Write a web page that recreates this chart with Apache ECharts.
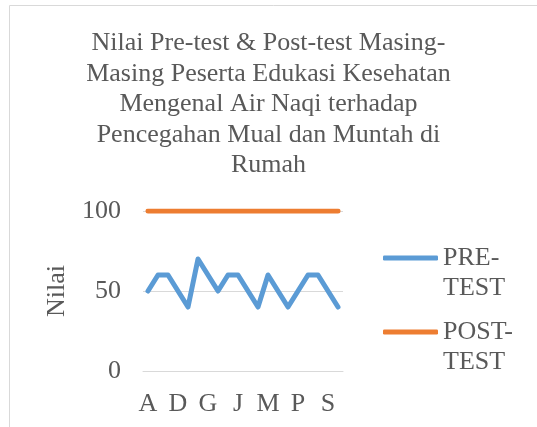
<!DOCTYPE html>
<html>
<head>
<meta charset="utf-8">
<script src="https://cdn.jsdelivr.net/npm/echarts@6/dist/echarts.min.js"></script>
<style>
  html, body { margin: 0; padding: 0; background: #fff; }
  #chart { width: 537px; height: 427px; }
</style>
</head>
<body>
<div id="chart"></div>
<script>
// data
var peserta = ['A','B','C','D','E','F','G','H','I','J','K','L','M','N','O','P','Q','R','S','T'];
var preTest = [50,60,60,50,40,70,60,50,60,60,50,40,60,50,40,50,60,60,50,40];
var postTest = [100,100,100,100,100,100,100,100,100,100,100,100,100,100,100,100,100,100,100,100];
var yTicks = [0, 50, 100];

var serif = 'Liberation Serif';
var grey = '#595959';

var chart = echarts.init(document.getElementById('chart'));

var option = {
  animation: false,
  graphic: [{
    type: 'rect',
    shape: { x: 9.5, y: 5.5, width: 600, height: 500 },
    style: { fill: 'none', stroke: '#d9d9d9', lineWidth: 1 }
  }],
  title: {
    text: 'Nilai Pre-test & Post-test Masing-\nMasing Peserta Edukasi Kesehatan\nMengenal Air Naqi terhadap\nPencegahan Mual dan Muntah di\nRumah',
    left: 'center',
    top: 28,
    padding: 0,
    textStyle: {
      fontFamily: serif,
      fontSize: 26,
      fontWeight: 'normal',
      lineHeight: 30.5,
      color: grey
    }
  },
  legend: {
    orient: 'vertical',
    left: 383,
    top: 213,
    padding: 0,
    itemGap: -16,
    itemWidth: 55,
    itemHeight: 5,
    icon: 'roundRect',
    // empty first line so the icon sits beside the first word
    formatter: function (name) {
      return ' \n' + name.replace('-', '-\n');
    },
    textStyle: {
      fontFamily: serif,
      fontSize: 26,
      lineHeight: 30,
      color: grey
    },
    data: ['PRE-TEST', 'POST-TEST']
  },
  grid: {
    left: 143,
    right: 194,
    top: 211,
    bottom: 56
  },
  xAxis: {
    type: 'category',
    data: peserta,
    boundaryGap: true,
    axisTick: { show: false },
    axisLine: { lineStyle: { color: '#d9d9d9', width: 1 } },
    axisLabel: {
      interval: 2,
      margin: 20,
      fontFamily: serif,
      fontSize: 26,
      color: grey
    }
  },
  yAxis: {
    type: 'value',
    min: yTicks[0],
    max: yTicks[yTicks.length - 1],
    interval: yTicks[1] - yTicks[0],
    name: 'Nilai',
    nameLocation: 'middle',
    nameGap: 73,
    nameTextStyle: {
      fontFamily: serif,
      fontSize: 26,
      color: grey
    },
    axisLabel: {
      margin: 22,
      fontFamily: serif,
      fontSize: 26,
      color: grey
    },
    splitLine: { lineStyle: { color: '#d9d9d9', width: 1 } }
  },
  series: [
    {
      name: 'PRE-TEST',
      type: 'line',
      data: preTest,
      symbol: 'none',
      color: '#5b9bd5',
      lineStyle: { width: 5, cap: 'round', join: 'round' }
    },
    {
      name: 'POST-TEST',
      type: 'line',
      data: postTest,
      symbol: 'none',
      color: '#ed7d31',
      lineStyle: { width: 5, cap: 'round', join: 'round' }
    }
  ]
};

chart.setOption(option);
</script>
</body>
</html>
